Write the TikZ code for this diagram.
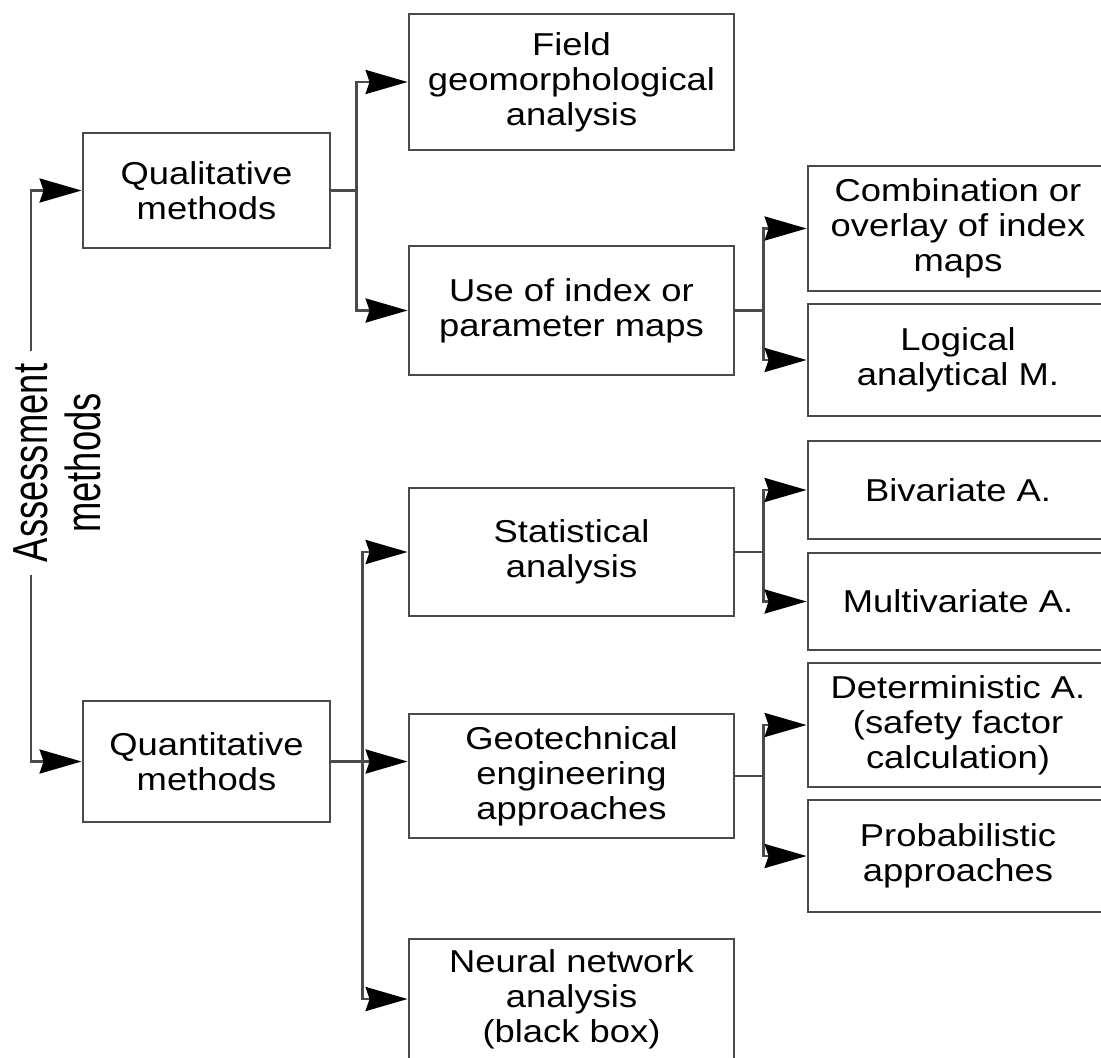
\documentclass[tikz,border=0pt]{standalone}
\usepackage{fontspec}
\setmainfont[FakeStretch=1.15]{Liberation Sans}
\newfontfamily\condfont[FakeStretch=0.74]{Liberation Sans}
\definecolor{LineGray}{HTML}{4A4A4A}
\usepackage{tikz}
\usetikzlibrary{positioning,arrows.meta}

\begin{document}
\begin{tikzpicture}[font=\fontsize{9}{10}\selectfont,
    box/.style={draw=LineGray, line width=0.8pt, fill=white, align=center, inner sep=1pt},
    midbox/.style={box, minimum width=3.25cm},
    rbox/.style={box, minimum width=3.0cm},
    arr/.style={draw=LineGray, line width=0.8pt,
                -{Stealth[length=4.2mm, width=2.4mm, inset=0.4mm, black]}},
    vtext/.style={rotate=90, font=\condfont\fontsize{14}{15}\selectfont}]
  \useasboundingbox (0,0) rectangle (11.01,-10.57);

  % left label
  \node[vtext] (assess) at (0.31,-4.63) {Assessment};
  \node[vtext] (assessb) at (0.83,-4.63) {methods};

  % first level
  \node[box, minimum width=2.47cm, minimum height=1.15cm] (qual) at (2.065,-1.905) {Qualitative\\methods};
  \node[box, minimum width=2.47cm, minimum height=1.21cm] (quant) at (2.065,-7.615) {Quantitative\\methods};

  % second level
  \node[midbox, minimum height=1.36cm] (field) at (5.715,-0.82) {Field\\geomorphological\\analysis};
  \node[midbox, minimum height=1.29cm] (useidx) at (5.715,-3.105) {Use of index or\\parameter maps};
  \node[midbox, minimum height=1.28cm] (stat) at (5.715,-5.52) {Statistical\\analysis};
  \node[midbox, minimum height=1.24cm] (geo) at (5.715,-7.76) {Geotechnical\\engineering\\approaches};
  \node[midbox, minimum height=1.20cm] (neural) at (5.715,-9.99) {Neural network\\analysis\\(black box)};

  % third level
  \node[rbox, minimum height=1.25cm] (combo) at (9.58,-2.285) {Combination or\\overlay of index\\maps};
  \node[rbox, minimum height=1.12cm] (logic) at (9.58,-3.60) {Logical\\analytical M.};
  \node[rbox, minimum height=0.98cm] (biv) at (9.58,-4.90) {Bivariate A.};
  \node[rbox, minimum height=0.97cm] (multi) at (9.58,-6.015) {Multivariate A.};
  \node[rbox, minimum height=1.24cm] (det) at (9.58,-7.25) {Deterministic A.\\(safety factor\\calculation)};
  \node[rbox, minimum height=1.12cm] (prob) at (9.58,-8.56) {Probabilistic\\approaches};

  % connectors
  \draw[arr] (assess.east) |- (qual.west);
  \draw[arr] (assess.west) |- (quant.west);

  \draw[arr] (qual.east) -- ++(0.25,0) |- (field.west);
  \draw[arr] (qual.east) -- ++(0.25,0) |- (useidx.west);

  \draw[arr] (quant.east) -- (quant.east -| geo.west);
  \draw[arr] (quant.east) -- ++(0.31,0) |- (stat.west);
  \draw[arr] (quant.east) -- ++(0.31,0) |- (neural.west);

  \draw[arr] (useidx.east) -- ++(0.28,0) |- (combo.west);
  \draw[arr] (useidx.east) -- ++(0.28,0) |- (logic.west);
  \draw[arr] (stat.east) -- ++(0.28,0) |- (biv.west);
  \draw[arr] (stat.east) -- ++(0.28,0) |- (multi.west);
  \draw[arr] (geo.east) -- ++(0.28,0) |- (det.west);
  \draw[arr] (geo.east) -- ++(0.28,0) |- (prob.west);
\end{tikzpicture}
\end{document}
